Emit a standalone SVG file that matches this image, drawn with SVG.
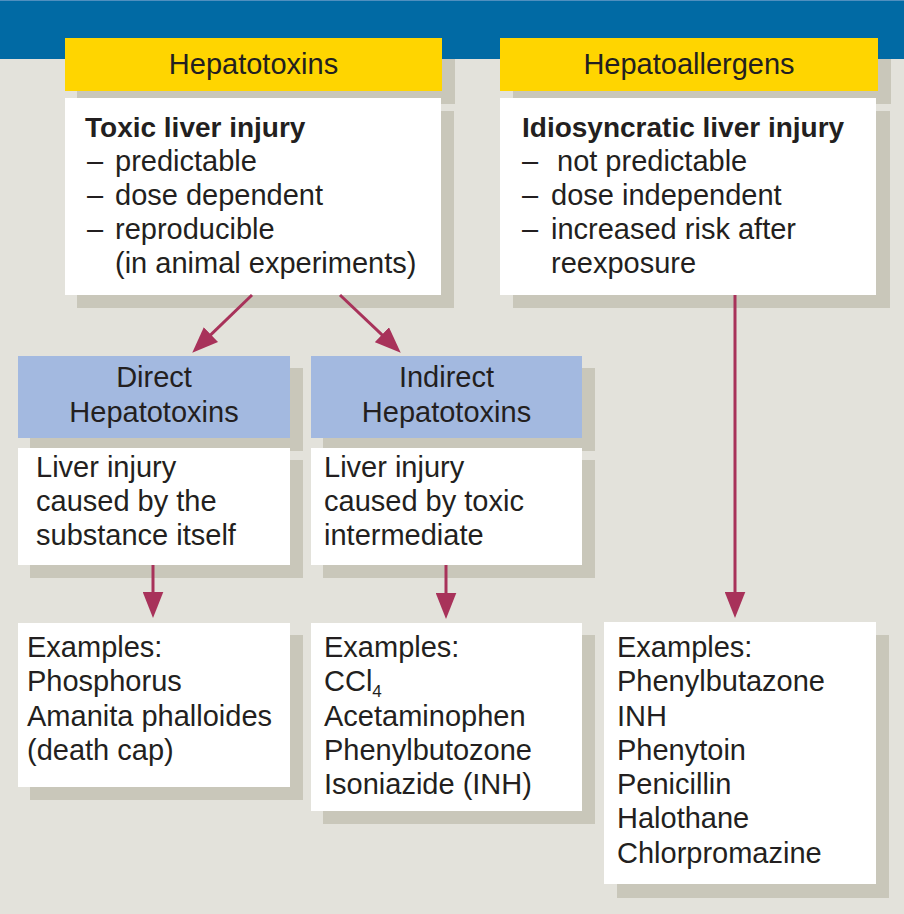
<svg xmlns="http://www.w3.org/2000/svg" width="904" height="914" viewBox="0 0 904 914">
<defs>
<style>
.bg{fill:#e3e2db}
.sh{fill:#c9c7ba}
.yel{fill:#ffd500}
.blu{fill:#a3b9e0}
.wht{fill:#ffffff}
text{font-family:"Liberation Sans",Arial,sans-serif;font-size:29px;fill:#231f20}
.b{font-weight:bold;font-size:28px}
.c{text-anchor:middle}
.sub{font-size:17px}
.con{stroke:#a8325a;stroke-width:3;fill:none;marker-end:url(#ah)}
</style>
<marker id="ah" markerUnits="userSpaceOnUse" markerWidth="26" markerHeight="21" refX="12" refY="9.5" orient="auto" viewBox="0 0 24 19">
<path d="M0,0 L24,9.5 L0,19 z" fill="#a8325a"/>
</marker>
</defs>
<rect class="bg" x="0" y="0" width="904" height="914"/>
<g id="shadows">
<rect class="sh" x="77" y="51" width="378" height="53"/>
<rect class="sh" x="77" y="111" width="377" height="197"/>
<rect class="sh" x="513" y="51" width="378" height="53"/>
<rect class="sh" x="513" y="111" width="377" height="197"/>
<rect class="sh" x="30" y="368" width="273" height="83"/>
<rect class="sh" x="30" y="460" width="273" height="118"/>
<rect class="sh" x="323" y="368" width="272" height="83"/>
<rect class="sh" x="323" y="460" width="272" height="118"/>
<rect class="sh" x="30" y="635" width="273" height="165"/>
<rect class="sh" x="323" y="635" width="272" height="189"/>
<rect class="sh" x="617" y="635" width="272" height="263"/>
</g>
<rect x="0" y="0" width="904" height="59" fill="#016aa4"/>
<rect x="0" y="0" width="904" height="1" fill="#4f8fbf"/>
<g id="hepatotoxins">
<rect class="yel" x="65" y="38" width="377" height="53"/>
<text class="c" x="253.5" y="74">Hepatotoxins</text>
</g>
<g id="toxic">
<rect class="wht" x="65" y="98" width="376" height="197"/>
<text class="b" x="85" y="137">Toxic liver injury</text>
<text x="87" y="171">–</text><text x="115" y="171">predictable</text>
<text x="87" y="205">–</text><text x="115" y="205">dose dependent</text>
<text x="87" y="239">–</text><text x="115" y="239">reproducible</text>
<text x="115" y="273">(in animal experiments)</text>
</g>
<g id="hepatoallergens">
<rect class="yel" x="500" y="38" width="378" height="53"/>
<text class="c" x="689" y="74">Hepatoallergens</text>
</g>
<g id="idiosyncratic">
<rect class="wht" x="500" y="98" width="376" height="197"/>
<text class="b" x="522" y="137">Idiosyncratic liver injury</text>
<text x="522" y="171">–</text><text x="557" y="171">not predictable</text>
<text x="522" y="205">–</text><text x="551" y="205">dose independent</text>
<text x="522" y="239">–</text><text x="551" y="239">increased risk after</text>
<text x="551" y="273">reexposure</text>
</g>
<g id="direct">
<rect class="blu" x="18" y="356" width="272" height="82"/>
<text class="c" x="154" y="387">Direct</text>
<text class="c" x="154" y="422">Hepatotoxins</text>
</g>
<g id="direct-desc">
<rect class="wht" x="18" y="448" width="272" height="117"/>
<text x="36" y="477">Liver injury</text>
<text x="36" y="511">caused by the</text>
<text x="36" y="545">substance itself</text>
</g>
<g id="indirect">
<rect class="blu" x="311" y="356" width="271" height="82"/>
<text class="c" x="446.5" y="387">Indirect</text>
<text class="c" x="446.5" y="422">Hepatotoxins</text>
</g>
<g id="indirect-desc">
<rect class="wht" x="311" y="448" width="271" height="117"/>
<text x="324" y="477">Liver injury</text>
<text x="324" y="511">caused by toxic</text>
<text x="324" y="545">intermediate</text>
</g>
<g id="direct-examples">
<rect class="wht" x="18" y="623" width="272" height="164"/>
<text x="27" y="657">Examples:</text>
<text x="27" y="691">Phosphorus</text>
<text x="27" y="726">Amanita phalloides</text>
<text x="27" y="760">(death cap)</text>
</g>
<g id="indirect-examples">
<rect class="wht" x="311" y="623" width="271" height="188"/>
<text x="324" y="657">Examples:</text>
<text x="324" y="691">CCl<tspan class="sub" dy="6">4</tspan></text>
<text x="324" y="726">Acetaminophen</text>
<text x="324" y="760">Phenylbutozone</text>
<text x="324" y="794">Isoniazide (INH)</text>
</g>
<g id="allergen-examples">
<rect class="wht" x="604" y="622" width="272" height="262"/>
<text x="617" y="657">Examples:</text>
<text x="617" y="691">Phenylbutazone</text>
<text x="617" y="726">INH</text>
<text x="617" y="760">Phenytoin</text>
<text x="617" y="794">Penicillin</text>
<text x="617" y="828">Halothane</text>
<text x="617" y="863">Chlorpromazine</text>
</g>
<g id="connectors">
<line class="con" x1="252" y1="295" x2="201.6" y2="343.7"/>
<line class="con" x1="340" y1="295" x2="391.3" y2="343.7"/>
<line class="con" x1="153" y1="565" x2="153" y2="605"/>
<line class="con" x1="446" y1="565" x2="446" y2="606"/>
<line class="con" x1="735" y1="295" x2="735" y2="605"/>
</g>
</svg>
